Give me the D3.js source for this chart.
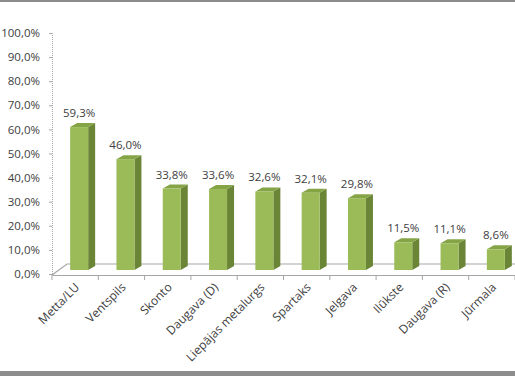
<!DOCTYPE html>
<html>
<head>
<meta charset="utf-8">
<script src="https://cdn.jsdelivr.net/npm/d3@7"></script>
<style>
  body { margin: 0; background: #fff; }
  text { font-family: "Open Sans", sans-serif; fill: #404040; }
</style>
</head>
<body>
<div id="chart"></div>
<script>
// club names and share values (fraction)
var clubs = ["Metta/LU", "Ventspils", "Skonto", "Daugava (D)", "Liepājas metalurgs",
             "Spartaks", "Jelgava", "Ilūkste", "Daugava (R)", "Jūrmala"];
var shares = [0.593, 0.460, 0.338, 0.336, 0.326, 0.321, 0.298, 0.115, 0.111, 0.086];
var yTicks = [0, 0.1, 0.2, 0.3, 0.4, 0.5, 0.6, 0.7, 0.8, 0.9, 1.0];

var dataset = clubs.map(function (c, i) { return {club: c, share: shares[i]}; });

var W = 515, H = 376;
var plotLeft = 52, plotRight = 515, plotTop = 33, plotBottom = 274;
var depthX = 15, depthY = 11;   // floor depth
var offX = 4, offY = 4;         // bar front plane shift
var barW = 18, sideX = 7, sideY = 4;

var lv = d3.formatLocale({decimal: ",", thousands: " ", grouping: [3], currency: ["", "€"]});
var pct = lv.format(".1%");

var svg = d3.select("#chart")
    .append("svg")
    .attr("width", W)
    .attr("height", H);

// outer frame lines
svg.append("rect").attr("x", 0).attr("y", 0).attr("width", W).attr("height", 2).attr("fill", "#8c8c8c");
svg.append("rect").attr("x", 0).attr("y", 371).attr("width", W).attr("height", 5).attr("fill", "#8c8c8c");

var xscale = d3.scaleBand()
    .range([plotLeft, plotRight])
    .domain(clubs)
    .padding(0);

var yscale = d3.scaleLinear()
    .domain([0, 1])
    .range([plotBottom, plotTop]);

// floor
svg.append("path")
    .attr("d", "M" + plotLeft + "," + (plotBottom + 1) + "L" + (plotLeft + depthX) + "," + (plotBottom + 1 - depthY) + "L" + plotRight + "," + (plotBottom + 1 - depthY))
    .attr("fill", "none")
    .attr("stroke", "#a6a6a6")
    .attr("stroke-width", 1.2);

// Y axis
var yaxis = d3.axisLeft(yscale)
    .tickValues(yTicks)
    .tickSize(3)
    .tickFormat(pct);
var yg = svg.append("g")
    .attr("transform", "translate(" + plotLeft + ",0)")
    .call(yaxis);
yg.select(".domain").attr("stroke", "#a6a6a6").attr("stroke-dasharray", "1,1");
yg.selectAll(".tick line").attr("stroke", "#a6a6a6");
yg.selectAll("text")
    .attr("x", -12)
    .attr("font-size", 11.5)
    .style("font-family", "Open Sans")
    .attr("fill", "#404040");

// X axis
var xaxis = d3.axisBottom(xscale).tickSize(0).tickFormat("");
var xg = svg.append("g")
    .attr("transform", "translate(0," + (plotBottom + 1) + ")")
    .call(xaxis);
xg.select(".domain").attr("stroke", "#a6a6a6").attr("stroke-width", 1.2);
xg.selectAll(".tick").remove();
xg.selectAll("line.bound")
    .data(clubs.concat(["_end"]))
    .enter()
    .append("line")
    .attr("class", "bound")
    .attr("x1", function (d, i) { return plotLeft + i * xscale.bandwidth(); })
    .attr("x2", function (d, i) { return plotLeft + i * xscale.bandwidth(); })
    .attr("y1", 0)
    .attr("y2", 5)
    .attr("stroke", "#a6a6a6");

xg.selectAll("text.cat")
    .data(clubs)
    .enter()
    .append("text")
    .attr("class", "cat")
    .attr("font-size", 12)
    .attr("text-anchor", "end")
    .attr("transform", function (d) {
        return "translate(" + (xscale(d) + xscale.bandwidth() / 2 + 5) + ",13)rotate(-45)";
    })
    .text(function (d) { return d; });

// bars
function fx(d) { return xscale(d.club) + xscale.bandwidth() / 2 + offX - barW / 2; }
function fy(d) { return yscale(d.share) - offY; }
var base = yscale(0) - offY;

var bars = svg.selectAll("g.bar")
    .data(dataset)
    .enter()
    .append("g")
    .attr("class", "bar");

bars.append("path")   // side
    .attr("d", function (d) {
        var x = fx(d) + barW, y = fy(d);
        return "M" + x + "," + y + "L" + (x + sideX) + "," + (y - sideY) +
            "L" + (x + sideX) + "," + (base - sideY) + "L" + x + "," + base + "Z";
    })
    .attr("fill", "#6b8537");

bars.append("path")   // top
    .attr("d", function (d) {
        var x = fx(d), y = fy(d);
        return "M" + x + "," + y + "L" + (x + sideX) + "," + (y - sideY) +
            "L" + (x + barW + sideX) + "," + (y - sideY) + "L" + (x + barW) + "," + y + "Z";
    })
    .attr("fill", "#84a446");

bars.append("rect")   // front
    .attr("x", fx)
    .attr("y", fy)
    .attr("width", barW)
    .attr("height", function (d) { return base - fy(d); })
    .attr("fill", "#9bbb59");

bars.append("text")
    .attr("x", function (d) { return fx(d) + barW / 2; })
    .attr("y", function (d) { return fy(d) - 10; })
    .attr("text-anchor", "middle")
    .attr("font-size", 11.5)
    .text(function (d) { return pct(d.share); });
</script>
</body>
</html>
